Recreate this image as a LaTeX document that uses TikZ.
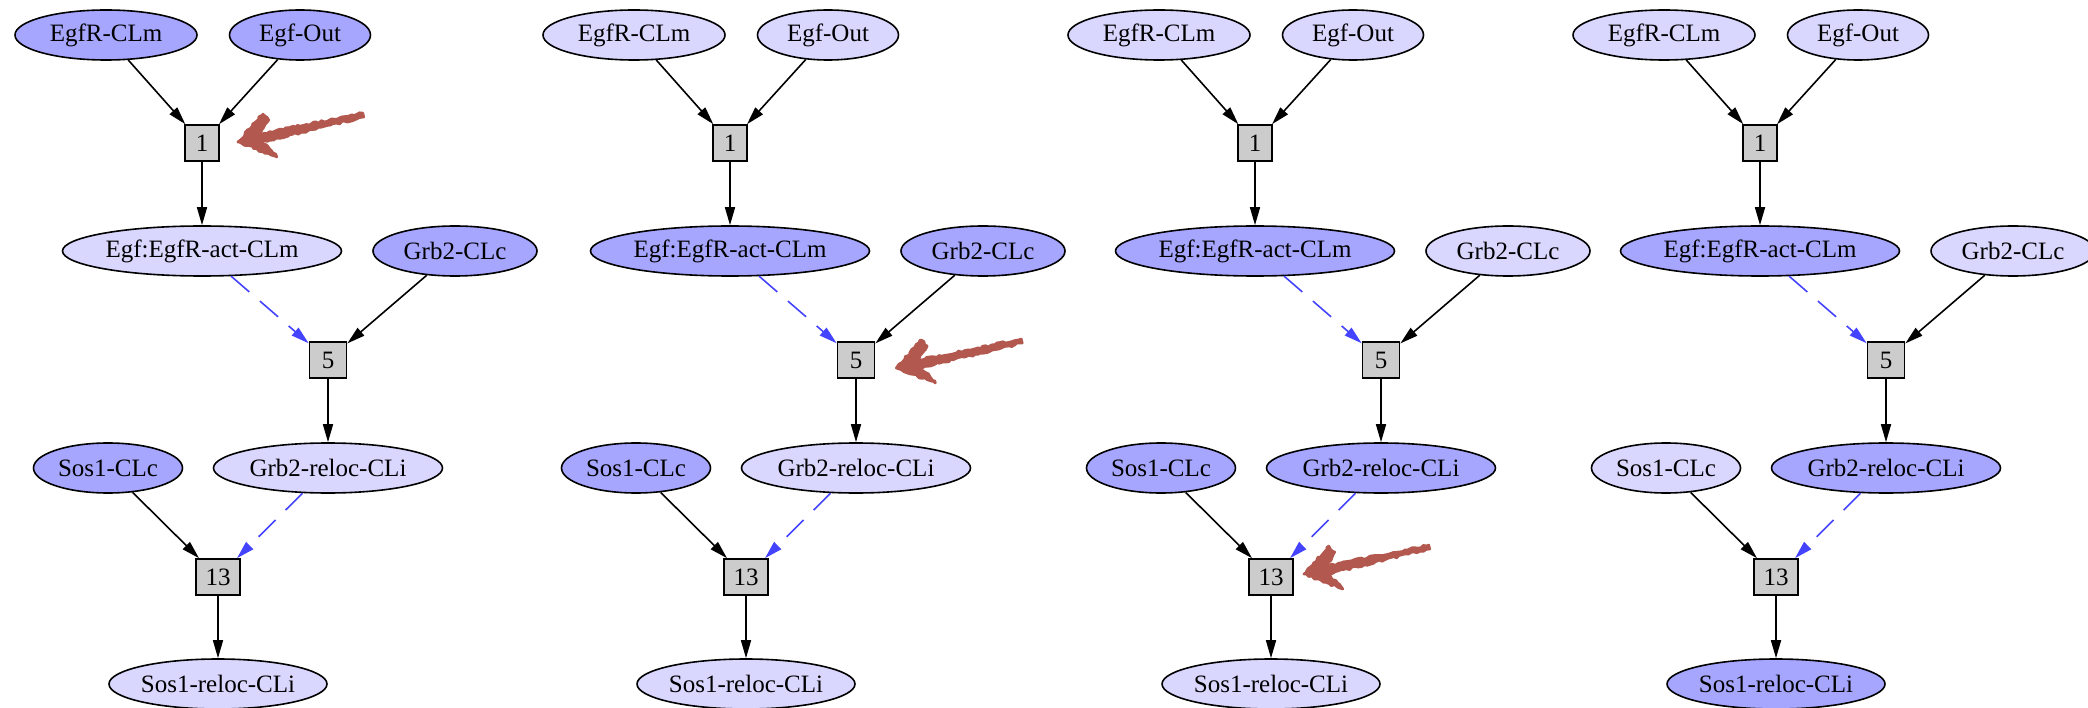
\documentclass[tikz,border=0pt]{standalone}
\usepackage{fontspec}
\setmainfont{Liberation Serif}
\usetikzlibrary{shapes.geometric,arrows.meta,decorations.pathmorphing}

\definecolor{spOn}{RGB}{166,166,255}
\definecolor{spOff}{RGB}{218,215,255}
\definecolor{rxnfill}{RGB}{204,204,204}
\definecolor{modblue}{RGB}{68,68,255}
\definecolor{chalk}{RGB}{178,88,78}

\tikzset{
  species/.style={ellipse,draw,line width=1.6pt,inner sep=0pt,minimum height=50pt},
  rxn/.style={draw,fill=rxnfill,line width=1.6pt,inner sep=0pt,
    minimum width=#1,minimum height=36pt},
  flow/.style={line width=1.6pt,-{Triangle[length=18pt,width=10pt]}},
  modif/.style={flow,modblue,dash pattern=on 24pt off 14pt},
  chalkline/.style={chalk,fill=chalk,line width=2.5pt,line join=round,
    decorate,decoration={random steps,segment length=3pt,amplitude=1.2pt}}
}

\begin{document}
\begin{tikzpicture}[x=1pt,y=-1pt,font=\fontsize{25}{30}\selectfont]

\useasboundingbox (0,0) rectangle (2088,708);

%% one step of the cascade per panel, fills give the active species
\foreach \p/\dx/\ca/\cb/\cc/\cd/\ce/\cf/\cg in {
  1/0/spOn/spOn/spOff/spOn/spOff/spOn/spOff,
  2/528/spOff/spOff/spOn/spOn/spOff/spOn/spOff,
  3/1053/spOff/spOff/spOn/spOff/spOn/spOn/spOff,
  4/1558/spOff/spOff/spOn/spOff/spOn/spOff/spOn}{
\begin{scope}[xshift=\dx pt]
\node[species,fill=\ca,minimum width=182pt] (egfr\p) at (106,35) {EgfR-CLm};
\node[species,fill=\cb,minimum width=141pt] (egf\p) at (300,35) {Egf-Out};
\node[rxn=34pt] (ra\p) at (202,143) {1};

\node[species,fill=\cc,minimum width=279pt] (act\p) at (202,251) {Egf:EgfR-act-CLm};
\node[species,fill=\cd,minimum width=164pt] (grb\p) at (455,251) {Grb2-CLc};
\node[rxn=37pt] (rb\p) at (328,360) {5};

\node[species,fill=\cf,minimum width=149pt] (sos\p) at (108,468) {Sos1-CLc};
\node[species,fill=\ce,minimum width=229pt] (grbr\p) at (328,468) {Grb2-reloc-CLi};
\node[rxn=44pt] (rc\p) at (218,577) {13};
\node[species,fill=\cg,minimum width=210pt] (sosr\p) at (218,684) {Sos1-reloc-CLi};

\draw[flow] (egfr\p) -- (ra\p);
\draw[flow] (egf\p) -- (ra\p);
\draw[flow] (ra\p) -- (act\p);
\draw[modif] (act\p) -- (rb\p);
\draw[flow] (grb\p) -- (rb\p);
\draw[flow] (rb\p) -- (grbr\p);
\draw[flow] (sos\p) -- (rc\p);
\draw[modif] (grbr\p) -- (rc\p);
\draw[flow] (rc\p) -- (sosr\p);
\end{scope}
}

%% hand drawn pointers to the reaction that fires
\coordinate (hinta) at ([shift={(19,-1)}]ra1.east);
\coordinate (hintb) at ([shift={(22,8)}]rb2.east);
\coordinate (hintc) at ([shift={(11,-3)}]rc3.east);

\foreach \h in {hinta,hintb,hintc}{
% shaft, thinner towards the tail
\filldraw[chalkline] ([shift={(19,1)}]\h) -- ([shift={(125,-25)}]\h)
  -- ([shift={(124,-29)}]\h) -- ([shift={(17,-7)}]\h) -- cycle;
% head
\filldraw[chalkline] ([shift={(-1,0)}]\h) -- ([shift={(24,-28)}]\h)
  -- ([shift={(30,-22)}]\h) -- ([shift={(19,-4)}]\h)
  -- ([shift={(33,9)}]\h) -- ([shift={(38,15)}]\h) -- cycle;
}

\end{tikzpicture}
\end{document}
